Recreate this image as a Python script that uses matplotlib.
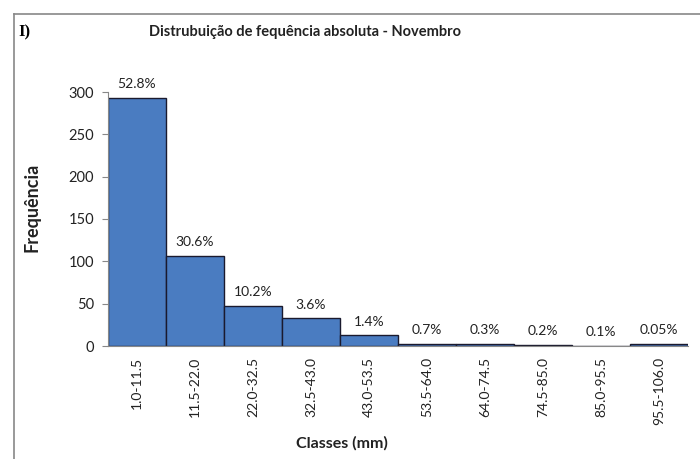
import matplotlib.pyplot as plt
from matplotlib.lines import Line2D

plt.rcParams['font.family'] = ['Lato', 'DejaVu Sans']

# Dados do histograma
classes = ['1.0-11.5', '11.5-22.0', '22.0-32.5', '32.5-43.0', '43.0-53.5',
           '53.5-64.0', '64.0-74.5', '74.5-85.0', '85.0-95.5', '95.5-106.0']
frequencia = [293, 106, 47.5, 32.5, 12.5, 2, 2, 1, 0.3, 2.5]
percentuais = ['52.8%', '30.6%', '10.2%', '3.6%', '1.4%',
               '0.7%', '0.3%', '0.2%', '0.1%', '0.05%']

fig = plt.figure(figsize=(7, 4.59), dpi=100)
ax = fig.add_axes([108 / 700, 1 - 346 / 459, 580 / 700, 254 / 459])

x = range(len(classes))
ax.bar(x, frequencia, width=1.0, color='#4a7cc1', edgecolor='#1a1a2e', linewidth=1.0)

for i, (v, p) in enumerate(zip(frequencia, percentuais)):
    ax.annotate(p, (i, v), xytext=(0, 10), textcoords='offset points',
                ha='center', va='center', fontsize=10, color='#222222')

ax.set_xlim(-0.5, len(classes) - 0.5)
ax.set_ylim(0, 300)
ax.set_yticks([0, 50, 100, 150, 200, 250, 300])
ax.set_xticks(list(x))
ax.set_xticklabels(classes, rotation=90, fontsize=10, color='#222222')
ax.tick_params(axis='x', length=0, pad=8)
ax.tick_params(axis='y', length=4, labelsize=10.5, color='#888888', labelcolor='#222222', pad=6)

for s in ['top', 'right']:
    ax.spines[s].set_visible(False)
ax.spines['left'].set_color('#888888')
ax.spines['bottom'].set_color('#888888')

fig.text(305 / 700, 1 - 32 / 459, 'Distrubuição de fequência absoluta - Novembro',
         ha='center', va='center', fontsize=10.5, fontweight='bold', color='#222222')
fig.text(18 / 700, 1 - 32 / 459, 'I)', ha='left', va='center', fontsize=12,
         fontweight='bold', family='Liberation Serif')
fig.text(32 / 700, 1 - 207 / 459, 'Frequência', ha='center', va='center',
         rotation=90, fontsize=13, fontweight='bold', color='#222222')
fig.text(342 / 700, 1 - 443 / 459, 'Classes (mm)', ha='center', va='center',
         fontsize=11.5, fontweight='bold', color='#222222')

# moldura do grafico original
fig.add_artist(Line2D([14 / 700, 1], [1 - 14 / 459, 1 - 14 / 459], color='#888888', linewidth=1.2))
fig.add_artist(Line2D([14 / 700, 14 / 700], [0, 1 - 14 / 459], color='#888888', linewidth=1.2))

fig.savefig('out.png', dpi=100)
